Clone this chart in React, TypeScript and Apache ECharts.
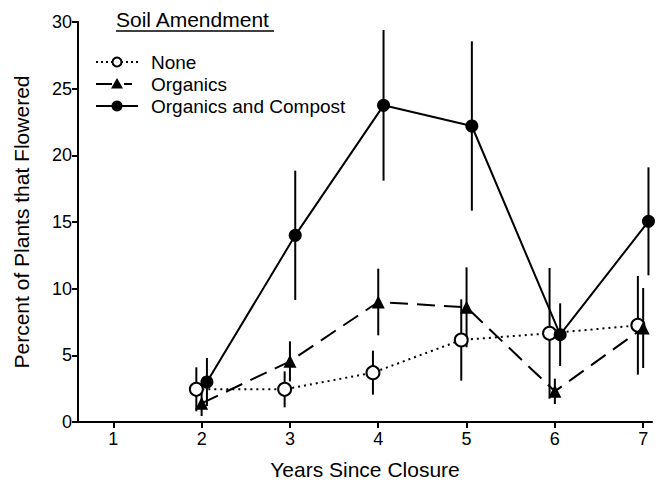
import React, { useEffect, useRef } from "react";
import * as echarts from "echarts";

const years = [2, 3, 4, 5, 6, 7];
const xTicks = [1, 2, 3, 4, 5, 6, 7];
const yTicks = [0, 5, 10, 15, 20, 25, 30];

const noneMean = [2.45, 2.45, 3.7, 6.15, 6.65, 7.25];
const noneErr = [1.65, 1.35, 1.65, 3.05, 4.9, 3.7];
const organicsMean = [1.4, 4.55, 9.0, 8.6, 2.3, 7.05];
const organicsErr = [0.95, 1.5, 2.5, 3.0, 0.95, 3.0];
const compostMean = [3.0, 14.0, 23.75, 22.2, 6.55, 15.05];
const compostErr = [1.8, 4.85, 5.65, 6.35, 2.35, 4.05];

const seriesNames = ["None", "Organics", "Organics and Compost"];
const legendTitle = "Soil Amendment";
const xTitle = "Years Since Closure";
const yTitle = "Percent of Plants that Flowered";

const FONT = "'Liberation Sans', Arial, Helvetica, sans-serif";

export default function App() {
  const ref = useRef<HTMLDivElement>(null);
  useEffect(() => {
    if (!ref.current) return;
    const chart = echarts.init(ref.current, null, { renderer: "svg" });

    const dodge = [-0.06, 0, 0.06];
    const groups = [
      { mean: noneMean, err: noneErr },
      { mean: organicsMean, err: organicsErr },
      { mean: compostMean, err: compostErr },
    ];

    const errSeries = groups.map((g, gi) => ({
      type: "custom",
      z: 1,
      silent: true,
      renderItem: (params: any, api: any) => {
        const x = api.value(0);
        const p1 = api.coord([x, api.value(1)]);
        const p2 = api.coord([x, api.value(2)]);
        return {
          type: "line",
          shape: { x1: p1[0], y1: p1[1], x2: p2[0], y2: p2[1] },
          style: { stroke: "#000", lineWidth: 2 },
        };
      },
      encode: { x: 0, y: [1, 2] },
      data: years.map((yr, i) => [yr + dodge[gi], g.mean[i] - g.err[i], g.mean[i] + g.err[i]]),
    }));

    const lineStyles: any[] = [
      { color: "#000", width: 2, type: [2, 4], cap: "butt" },
      { color: "#000", width: 2, type: [18, 9] },
      { color: "#000", width: 2, type: "solid" },
    ];
    const symbols = ["circle", "triangle", "circle"];
    const sizes = [13, 13, 13];
    const fills = ["#fff", "#000", "#000"];

    const lineSeries = groups.map((g, gi) => ({
      type: "line",
      name: seriesNames[gi],
      z: 3 + gi,
      symbol: symbols[gi],
      symbolSize: sizes[gi],
      showSymbol: true,
      lineStyle: lineStyles[gi],
      itemStyle: { color: fills[gi], borderColor: "#000", borderWidth: gi === 0 ? 2 : 0, opacity: 1 },
      data: years.map((yr, i) => [yr + dodge[gi], g.mean[i]]),
    }));

    const rowY = [62, 84, 106];
    const lx0 = 96, lx1 = 138, lcx = 117, tx = 151;
    const graphics: any[] = [
      {
        type: "text",
        x: 116,
        y: 19,
        style: { text: legendTitle, fontSize: 21, fontFamily: FONT, fill: "#000", textVerticalAlign: "middle" },
      },
      { type: "line", shape: { x1: 116, y1: 31, x2: 274, y2: 31 }, style: { stroke: "#000", lineWidth: 1.5 } },
      // None
      { type: "line", shape: { x1: lx0, y1: rowY[0], x2: lx1, y2: rowY[0] }, style: { stroke: "#000", lineWidth: 2, lineDash: [2, 3] } },
      { type: "circle", shape: { cx: lcx, cy: rowY[0], r: 4.5 }, style: { fill: "#fff", stroke: "#000", lineWidth: 2 } },
      // Organics
      { type: "line", shape: { x1: lx0, y1: rowY[1], x2: 112, y2: rowY[1] }, style: { stroke: "#000", lineWidth: 2 } },
      { type: "polygon", shape: { points: [[lcx, rowY[1] - 6], [lcx + 6, rowY[1] + 4.5], [lcx - 6, rowY[1] + 4.5]] }, style: { fill: "#000" } },
      { type: "line", shape: { x1: 124, y1: rowY[1], x2: 132, y2: rowY[1] }, style: { stroke: "#000", lineWidth: 2 } },
      // Compost
      { type: "line", shape: { x1: lx0, y1: rowY[2], x2: lx1, y2: rowY[2] }, style: { stroke: "#000", lineWidth: 2 } },
      { type: "circle", shape: { cx: lcx, cy: rowY[2], r: 5.5 }, style: { fill: "#000" } },
    ];
    seriesNames.forEach((n, i) => {
      graphics.push({
        type: "text",
        x: tx,
        y: rowY[i],
        style: { text: n, fontSize: 19, fontFamily: FONT, fill: "#000", textVerticalAlign: "middle" },
      });
    });

    chart.setOption({
      animation: false,
      backgroundColor: "#fff",
      textStyle: { fontFamily: FONT, color: "#000" },
      grid: { left: 78, right: 11, top: 22, bottom: 63, containLabel: false },
      xAxis: {
        type: "value",
        min: 0.6,
        max: 7.1,
        name: xTitle,
        nameLocation: "middle",
        nameGap: 37,
        nameTextStyle: { fontSize: 21, color: "#000", fontFamily: FONT },
        axisLine: { show: true, onZero: false, lineStyle: { color: "#000", width: 2 } },
        axisTick: { show: true, length: 6, customValues: xTicks, lineStyle: { color: "#000", width: 2 } },
        axisLabel: { customValues: xTicks, fontSize: 18, color: "#000", margin: 8, fontFamily: FONT },
        splitLine: { show: false },
      },
      yAxis: {
        type: "value",
        min: 0,
        max: 30,
        interval: 5,
        name: yTitle,
        nameLocation: "middle",
        nameGap: 46,
        nameTextStyle: { fontSize: 21, color: "#000", fontFamily: FONT },
        axisLine: { show: true, lineStyle: { color: "#000", width: 2 } },
        axisTick: { show: true, length: 6, customValues: yTicks, lineStyle: { color: "#000", width: 2 } },
        axisLabel: { customValues: yTicks, fontSize: 18, color: "#000", margin: 6, fontFamily: FONT },
        splitLine: { show: false },
      },
      graphic: graphics,
      series: [...errSeries, ...lineSeries],
    });
    return () => chart.dispose();
  }, []);
  return <div ref={ref} style={{ width: 663, height: 485, position: "absolute", left: 0, top: 0 }} />;
}
